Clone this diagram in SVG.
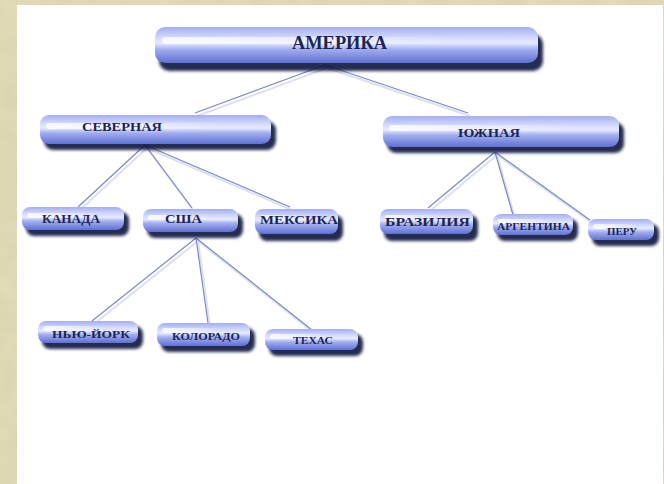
<svg xmlns="http://www.w3.org/2000/svg" width="664" height="484" viewBox="0 0 664 484">
<defs>
  <linearGradient id="body" x1="0" y1="0" x2="0" y2="1">
    <stop offset="0" stop-color="#a4aef0"/>
    <stop offset="0.3" stop-color="#d4daff"/>
    <stop offset="0.45" stop-color="#e6eaff"/>
    <stop offset="0.62" stop-color="#a2aeee"/>
    <stop offset="1" stop-color="#5f70d4"/>
  </linearGradient>
  <linearGradient id="shine" x1="0" y1="0" x2="1" y2="0">
    <stop offset="0" stop-color="#ffffff" stop-opacity="0.85"/>
    <stop offset="0.5" stop-color="#ffffff" stop-opacity="0.45"/>
    <stop offset="1" stop-color="#ffffff" stop-opacity="0"/>
  </linearGradient>
  <filter id="blur" x="-10%" y="-30%" width="120%" height="160%">
    <feGaussianBlur stdDeviation="1.5"/>
  </filter>
  <filter id="tex" x="0" y="0" width="100%" height="100%">
    <feTurbulence type="fractalNoise" baseFrequency="0.04" numOctaves="3" seed="4"/>
    <feColorMatrix type="matrix" values="0 0 0 0 0.55  0 0 0 0 0.52  0 0 0 0 0.35  0 0 0 0.35 0"/>
  </filter>
  <style>
    .sh{fill:#0f1640;opacity:0.9;filter:url(#blur)}
    .bd{fill:url(#body)}
    .hl{fill:url(#shine)}
    .t{font-family:"Liberation Serif","Times New Roman",serif;font-weight:bold;fill:#1c2456;text-anchor:middle}
    .ln{stroke:#7d89c6;stroke-width:1.2;fill:none}
    .lns{stroke:#dde0ee;stroke-width:2;fill:none}
  </style>
</defs>
<rect x="0" y="0" width="664" height="484" fill="#e4ddb8"/>
<rect x="0" y="0" width="664" height="484" filter="url(#tex)"/>
<rect x="17" y="5" width="646" height="479" fill="#ffffff"/>

<g id="connectors">
  <g transform="translate(2,3)" class="lns">
    <path d="M325 65L195 113M325 65L468 113"/>
    <path d="M145 145L78 207M145 145L192 208M145 145L290 207"/>
    <path d="M495 152L428 208M495 152L513 215M495 152L590 220"/>
    <path d="M196 238L92 321M196 238L208 323M196 238L312 330"/>
  </g>
  <g class="ln">
    <path d="M325 65L195 113M325 65L468 113"/>
    <path d="M145 145L78 207M145 145L192 208M145 145L290 207"/>
    <path d="M495 152L428 208M495 152L513 215M495 152L590 220"/>
    <path d="M196 238L92 321M196 238L208 323M196 238L312 330"/>
  </g>
</g>

<g id="amerika">
  <rect class="sh" x="159" y="34" width="384" height="37" rx="10"/>
  <rect class="bd" x="155" y="27" width="383" height="36" rx="10"/>
  <rect class="hl" x="162" y="37" width="300" height="7" rx="3.5"/>
  <text class="t" x="339.5" y="49" font-size="18" textLength="95" lengthAdjust="spacingAndGlyphs">АМЕРИКА</text>
</g>

<g id="severnaya">
  <rect class="sh" x="44" y="121" width="232" height="29" rx="9"/>
  <rect class="bd" x="40" y="115" width="231" height="29" rx="9"/>
  <rect class="hl" x="46" y="123" width="180" height="6" rx="3"/>
  <text class="t" x="122" y="131" font-size="13" textLength="80" lengthAdjust="spacingAndGlyphs">СЕВЕРНАЯ</text>
</g>

<g id="yuzhnaya">
  <rect class="sh" x="387" y="122" width="237" height="31" rx="9"/>
  <rect class="bd" x="383" y="116" width="236" height="31" rx="9"/>
  <rect class="hl" x="389" y="125" width="180" height="6" rx="3"/>
  <text class="t" x="489" y="137" font-size="13" textLength="62" lengthAdjust="spacingAndGlyphs">ЮЖНАЯ</text>
</g>

<g id="kanada">
  <rect class="sh" x="26" y="212" width="103" height="24" rx="8"/>
  <rect class="bd" x="22" y="207" width="102" height="23" rx="8"/>
  <rect class="hl" x="27" y="213" width="70" height="5" rx="2.5"/>
  <text class="t" x="71" y="223" font-size="12" textLength="58" lengthAdjust="spacingAndGlyphs">КАНАДА</text>
</g>

<g id="ssha">
  <rect class="sh" x="147" y="214" width="96" height="24" rx="8"/>
  <rect class="bd" x="143" y="209" width="95" height="23" rx="8"/>
  <rect class="hl" x="148" y="215" width="65" height="5" rx="2.5"/>
  <text class="t" x="183.5" y="223" font-size="12" textLength="37" lengthAdjust="spacingAndGlyphs">США</text>
</g>

<g id="meksika">
  <rect class="sh" x="259" y="215" width="84" height="26" rx="8"/>
  <rect class="bd" x="255" y="209" width="83" height="25" rx="8"/>
  <rect class="hl" x="260" y="215" width="55" height="5" rx="2.5"/>
  <text class="t" x="299" y="224" font-size="12" textLength="78" lengthAdjust="spacingAndGlyphs">МЕКСИКА</text>
</g>

<g id="braziliya">
  <rect class="sh" x="384" y="215" width="94" height="26" rx="8"/>
  <rect class="bd" x="380" y="209" width="93" height="25" rx="8"/>
  <rect class="hl" x="385" y="215" width="62" height="5" rx="2.5"/>
  <text class="t" x="427.5" y="226" font-size="13" textLength="85" lengthAdjust="spacingAndGlyphs">БРАЗИЛИЯ</text>
</g>

<g id="argentina">
  <rect class="sh" x="497" y="219" width="81" height="22" rx="8"/>
  <rect class="bd" x="493" y="214" width="80" height="21" rx="8"/>
  <rect class="hl" x="498" y="219" width="55" height="5" rx="2.5"/>
  <text class="t" x="533.5" y="230" font-size="10" textLength="73" lengthAdjust="spacingAndGlyphs">АРГЕНТИНА</text>
</g>

<g id="peru">
  <rect class="sh" x="592" y="224" width="67" height="22" rx="8"/>
  <rect class="bd" x="588" y="219" width="66" height="21" rx="8"/>
  <rect class="hl" x="593" y="224" width="45" height="5" rx="2.5"/>
  <text class="t" x="622" y="235" font-size="10" textLength="30" lengthAdjust="spacingAndGlyphs">ПЕРУ</text>
</g>

<g id="nyu-york">
  <rect class="sh" x="42" y="326" width="101" height="23" rx="8"/>
  <rect class="bd" x="38" y="321" width="100" height="22" rx="8"/>
  <rect class="hl" x="43" y="326" width="68" height="5" rx="2.5"/>
  <text class="t" x="91" y="338" font-size="10" textLength="78" lengthAdjust="spacingAndGlyphs">НЬЮ-ЙОРК</text>
</g>

<g id="kolorado">
  <rect class="sh" x="161" y="328" width="94" height="24" rx="8"/>
  <rect class="bd" x="157" y="323" width="93" height="23" rx="8"/>
  <rect class="hl" x="162" y="328" width="62" height="5" rx="2.5"/>
  <text class="t" x="206" y="340" font-size="10.5" textLength="68" lengthAdjust="spacingAndGlyphs">КОЛОРАДО</text>
</g>

<g id="tehas">
  <rect class="sh" x="269" y="334" width="94" height="22" rx="8"/>
  <rect class="bd" x="265" y="329" width="93" height="21" rx="8"/>
  <rect class="hl" x="270" y="334" width="62" height="5" rx="2.5"/>
  <text class="t" x="313" y="344" font-size="10" textLength="40" lengthAdjust="spacingAndGlyphs">ТЕХАС</text>
</g>
</svg>
